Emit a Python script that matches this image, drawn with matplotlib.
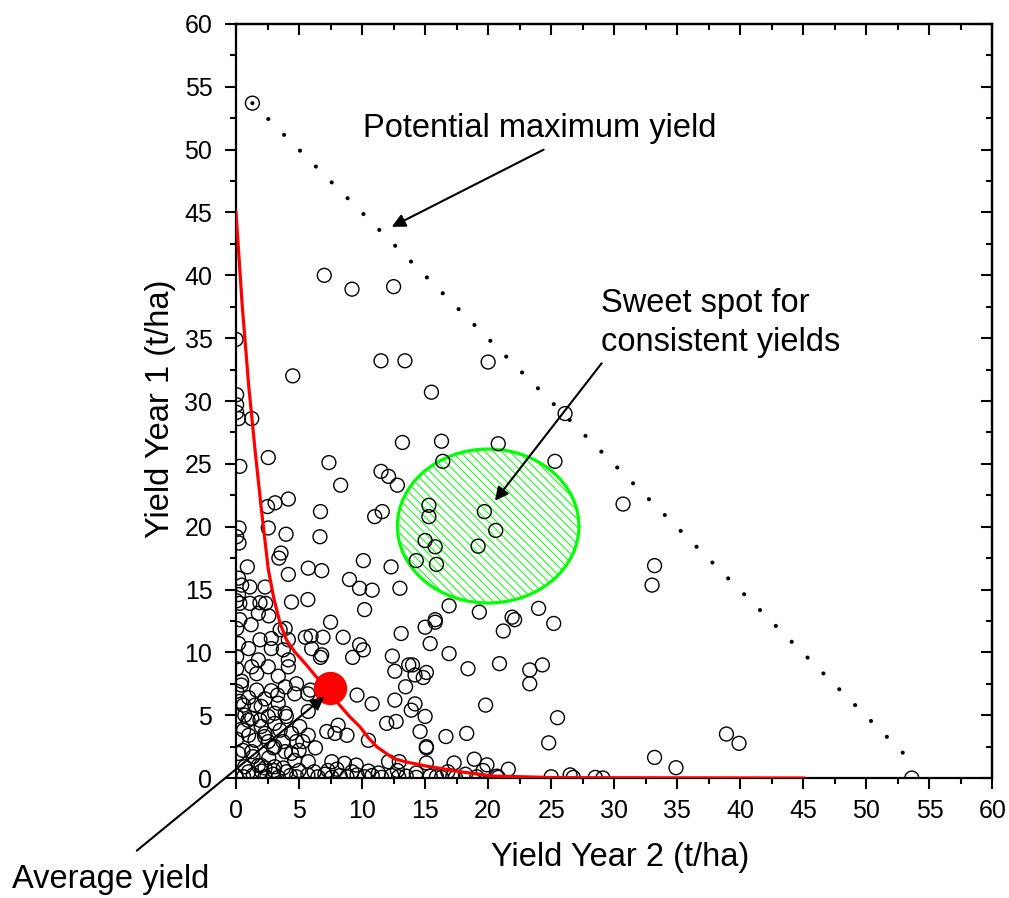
import numpy as np
import matplotlib as mpl
mpl.use('Agg')
import matplotlib.pyplot as plt
from matplotlib.patches import Ellipse
from matplotlib.ticker import MultipleLocator

mpl.rcParams['font.family'] = ['Liberation Sans', 'DejaVu Sans']
mpl.rcParams['hatch.linewidth'] = 0.7

# fields as (yield year 2, yield year 1) in t/ha
upper_pts = [(1.3, 53.7), (7.0, 40.0), (9.2, 38.9), (12.5, 39.1), (0.0, 34.9),
             (11.5, 33.2), (13.4, 33.2), (20.0, 33.1), (4.5, 32.0), (15.5, 30.7),
             (0.05, 30.5), (0.05, 29.7), (0.05, 29.1), (0.2, 28.6), (1.25, 28.6),
             (26.1, 29.0), (13.2, 26.7), (16.3, 26.8), (20.8, 26.6), (2.56, 25.5),
             (7.37, 25.1), (16.4, 25.2), (25.3, 25.2), (0.3, 24.8), (11.5, 24.4),
             (12.1, 24.0), (12.8, 23.3), (8.3, 23.3), (2.5, 21.6), (3.1, 21.9),
             (4.15, 22.2), (6.7, 21.2), (11.0, 20.8), (11.6, 21.2), (30.7, 21.8)]

mid_pts = [(15.3, 21.7), (15.3, 20.8), (19.7, 21.2), (20.6, 19.7), (15.0, 18.9),
           (15.8, 18.4), (19.2, 18.45), (14.3, 17.3), (15.9, 17.0), (0.24, 19.9),
           (0.05, 19.2), (0.24, 18.7), (2.56, 19.9), (3.97, 19.4), (6.66, 19.2),
           (3.57, 17.9), (3.4, 17.5), (10.1, 17.3), (12.3, 16.8), (0.9, 16.8),
           (5.73, 16.7), (6.8, 16.5), (33.2, 16.9), (33.0, 15.35), (4.15, 16.2),
           (0.2, 15.9), (0.45, 15.35), (1.1, 15.2), (2.3, 15.2), (9.0, 15.8),
           (9.8, 15.1), (10.8, 14.95), (13.0, 15.1), (0.2, 14.6), (0.3, 13.9),
           (1.1, 13.9), (1.9, 13.95), (2.35, 13.9), (1.77, 13.1), (4.4, 14.0),
           (5.7, 14.2), (10.2, 13.4), (16.9, 13.7), (19.3, 13.2), (24.0, 13.5),
           (21.9, 12.8), (22.1, 12.6), (25.2, 12.3), (15.8, 12.6), (15.8, 12.4),
           (15.0, 12.0), (13.1, 11.5), (21.2, 11.7), (7.5, 12.4), (0.3, 12.6),
           (15.4, 10.7), (16.9, 9.9), (12.4, 9.7), (12.6, 8.5), (13.7, 9.0),
           (14.0, 9.0), (15.1, 8.4), (14.2, 8.2), (14.85, 8.0), (18.4, 8.7),
           (20.9, 9.1), (23.3, 8.6), (24.3, 9.0), (23.3, 7.5), (13.45, 7.26),
           (19.8, 5.8), (25.5, 4.8), (38.9, 3.5), (39.9, 2.76), (33.2, 1.64),
           (34.9, 0.82), (24.8, 2.8), (14.6, 3.7), (16.65, 3.3), (18.3, 3.55),
           (15.1, 2.5), (15.1, 2.4), (0.05, 14.1), (0.05, 11.9), (1.2, 12.2),
           (2.6, 12.9), (1.0, 10.3)]

cluster_pts = [(3.5, 11.8), (3.9, 11.9), (1.9, 11.0), (2.8, 11.1), (4.15, 11.0),
               (5.5, 11.2), (5.95, 11.3), (6.9, 11.2), (8.5, 11.2), (0.2, 10.7),
               (6.0, 10.3), (6.8, 9.8), (6.7, 9.6), (9.8, 10.6), (10.1, 10.2),
               (9.25, 9.6), (2.8, 10.3), (3.75, 10.2), (1.77, 9.4), (0.05, 9.65),
               (1.25, 8.85), (1.64, 8.3), (2.56, 8.85), (3.35, 8.1), (4.15, 9.4),
               (4.15, 8.85), (0.05, 8.7), (0.45, 7.7), (1.64, 7.0), (2.8, 6.95),
               (3.9, 7.25), (4.8, 7.5), (0.05, 6.9), (5.9, 7.0), (9.6, 6.6),
               (4.65, 6.7), (5.7, 6.7), (0.42, 7.4), (10.8, 5.9), (12.6, 6.2),
               (14.2, 5.9), (13.9, 5.4), (15.0, 4.9), (12.7, 4.5), (11.95, 4.35),
               (0.6, 5.8), (1.5, 5.8), (2.0, 5.7), (3.35, 5.95), (3.07, 5.15),
               (0.7, 5.0), (1.25, 4.75), (2.56, 4.9), (3.9, 5.15), (4.0, 4.9),
               (5.73, 5.3), (0.05, 4.9), (0.95, 4.6), (2.0, 4.1), (3.07, 4.35),
               (5.05, 4.1), (7.2, 3.7), (8.1, 4.2), (7.85, 3.55), (8.8, 3.4),
               (10.5, 3.0), (0.6, 3.8), (1.5, 3.0), (2.3, 3.55), (2.56, 2.9),
               (4.4, 3.55), (4.8, 2.9), (5.3, 2.9), (5.73, 3.4), (2.96, 2.4),
               (2.27, 3.3), (3.73, 2.9), (3.07, 2.5), (0.2, 1.96), (1.25, 2.1),
               (3.9, 2.1), (4.4, 1.96), (0.55, 2.2), (1.35, 1.7), (4.65, 1.4),
               (5.73, 1.3), (7.6, 1.3), (8.6, 1.17), (9.54, 1.03), (12.1, 1.3),
               (12.95, 1.3), (15.1, 1.2), (17.3, 1.2), (18.9, 1.5), (19.9, 1.05),
               (21.6, 0.7), (19.6, 0.6), (14.3, 0.4), (0.7, 0.9), (1.77, 1.0),
               (2.3, 0.8), (3.75, 0.8), (3.07, 0.9), (2.0, 1.0), (1.0, 6.4),
               (2.3, 6.3), (3.3, 6.6), (0.3, 6.1), (1.9, 4.6), (3.5, 3.8),
               (0.05, 3.1), (1.0, 3.4), (6.3, 2.4), (5.0, 2.2), (2.6, 1.6)]

floor_pts = [(0.0, 0.2), (0.6, 0.1), (1.37, 0.25), (2.3, 0.1), (2.96, 0.3),
             (3.35, 0.05), (4.3, 0.2), (4.8, 0.1), (5.7, 0.25), (6.5, 0.1),
             (7.05, 0.3), (7.6, 0.05), (8.25, 0.2), (8.8, 0.1), (9.6, 0.25),
             (10.2, 0.1), (10.8, 0.2), (11.55, 0.05), (12.35, 0.2), (12.9, 0.1),
             (13.5, 0.15), (14.3, 0.05), (15.4, 0.15), (15.9, 0.1), (16.3, 0.05),
             (17.2, 0.15), (17.4, 0.05), (19.1, 0.1), (20.7, 0.15), (20.8, 0.05),
             (25.0, 0.1), (26.5, 0.25), (26.75, 0.05), (28.5, 0.05), (29.1, 0.0),
             (53.6, 0.0), (1.0, 0.5), (2.0, 0.55), (4.0, 0.5), (5.0, 0.6),
             (6.2, 0.5), (7.3, 0.6), (9.2, 0.5), (10.5, 0.55), (11.3, 0.4),
             (3.0, 0.6), (8.0, 0.7), (12.8, 0.6), (16.8, 0.5), (18.2, 0.3)]

# fitted trade-off curve
curve_x = [0, 0.5, 1.0, 1.5, 2.0, 2.56, 3.0, 3.5, 4.0, 4.65, 5.5, 6.24, 7.2, 8.1,
           9.0, 9.83, 10.5, 11.16, 12.47, 13.4, 15.1, 17.8, 20.4, 25.4, 45]
curve_y = [45, 37.5, 31.3, 26.2, 21.5, 16.6, 14.3, 12.3, 11.0, 10.05, 9.1, 8.2,
           7.1, 5.94, 4.9, 4.08, 3.2, 2.49, 1.57, 1.3, 0.95, 0.5, 0.16, 0.03, 0]

avg_x, avg_y = 7.45, 7.15
pot_x = [1.3, 53.9]
pot_y = [53.7, 1.0]
sweet_center = (20.0, 20.05)
sweet_w, sweet_h = 14.4, 12.25

ticks = np.arange(0, 61, 5)

fig = plt.figure(figsize=(10.09, 8.98), dpi=100)
ax = fig.add_axes([0.2339, 0.1336, 0.7497, 0.8397])

allpts = np.array(upper_pts + mid_pts + cluster_pts + floor_pts)
ax.scatter(allpts[:, 0], allpts[:, 1], s=100, facecolors='none',
           edgecolors='black', linewidths=1.0, zorder=3)

ax.plot(pot_x, pot_y, color='black', lw=3.0, linestyle=(0, (0.01, 5.37)),
        dash_capstyle='round', zorder=2)

ax.add_patch(Ellipse(sweet_center, sweet_w, sweet_h, fill=False,
                     edgecolor='#00ff00', hatch='\\\\\\\\', lw=2.3, zorder=2))

ax.plot(curve_x, curve_y, color='#ff0000', lw=2.3, zorder=4)
ax.plot([avg_x], [avg_y], 'o', color='#ff0000', ms=23, zorder=5)

ax.set_xlim(0, 60)
ax.set_ylim(0, 60)
ax.set_xticks(ticks)
ax.set_yticks(ticks)
ax.xaxis.set_minor_locator(MultipleLocator(2.5))
ax.yaxis.set_minor_locator(MultipleLocator(2.5))
ax.tick_params(which='major', direction='out', length=8, width=1.5,
               labelsize=18)
ax.tick_params(axis='x', which='major', pad=7)
ax.tick_params(axis='y', which='major', pad=9)
ax.tick_params(which='minor', direction='out', length=4, width=1.5)
for sp in ax.spines.values():
    sp.set_linewidth(1.6)

top = ax.secondary_xaxis('top')
top.set_xticks(ticks)
top.xaxis.set_minor_locator(MultipleLocator(2.5))
top.tick_params(which='major', direction='in', length=8, width=1.5, labeltop=False)
top.tick_params(which='minor', direction='in', length=4, width=1.5)
top.spines['top'].set_linewidth(1.6)
right = ax.secondary_yaxis('right')
right.set_yticks(ticks)
right.yaxis.set_minor_locator(MultipleLocator(2.5))
right.tick_params(which='major', direction='in', length=8, width=1.5, labelright=False)
right.tick_params(which='minor', direction='in', length=4, width=1.5)
right.spines['right'].set_linewidth(1.6)

ax.set_xlabel('Yield Year 2 (t/ha)', fontsize=23.5)
ax.set_ylabel('Yield Year 1 (t/ha)', fontsize=23.5)
ax.xaxis.set_label_coords(0.508, -0.105)
ax.xaxis.label.set_va('center')
ax.yaxis.set_label_coords(-0.100, 0.49)
ax.yaxis.label.set_va('center')

arrow = dict(arrowstyle='-|>', color='black', lw=1.5, mutation_scale=20,
             shrinkA=0, shrinkB=0)
ax.text(24.1, 51.7, 'Potential maximum yield', fontsize=23.5,
        ha='center', va='center')
ax.annotate('', xy=(12.35, 43.86), xytext=(24.4, 50.0), arrowprops=dict(arrow),
            zorder=6)
ax.text(28.95, 36.2, 'Sweet spot for\nconsistent yields', fontsize=23.5,
        ha='left', va='center', linespacing=1.32)
ax.annotate('', xy=(20.54, 22.06), xytext=(29.0, 33.0), arrowprops=dict(arrow),
            zorder=6)
ax.annotate('', xy=(7.0, 6.47), xytext=(-7.87, -5.78), arrowprops=dict(arrow),
            zorder=6, annotation_clip=False)
ax.text(-17.76, -8.1, 'Average yield', fontsize=23.5, ha='left', va='center',
        clip_on=False)

fig.savefig('out.png', dpi=100)
